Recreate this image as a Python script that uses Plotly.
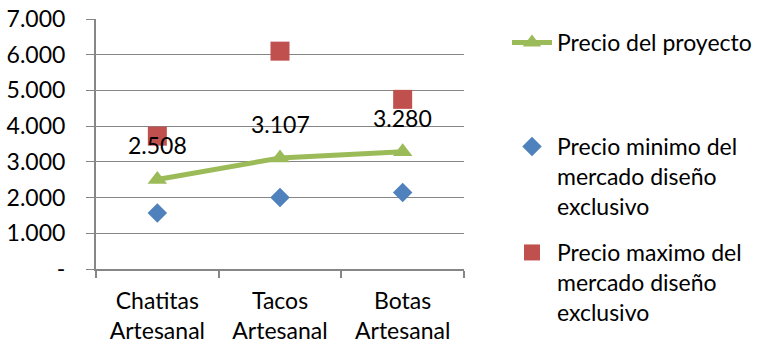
import plotly.graph_objects as go

categories = ["Chatitas<br>Artesanal", "Tacos<br>Artesanal", "Botas<br>Artesanal"]
precio_proyecto = [2508, 3107, 3280]
precio_minimo = [1570, 2000, 2140]
precio_maximo = [3720, 6100, 4750]
y_tick_vals = [0, 1000, 2000, 3000, 4000, 5000, 6000, 7000]
y_tick_text = ["-", "1.000", "2.000", "3.000", "4.000", "5.000", "6.000", "7.000"]
labels_proyecto = ["2.508", "3.107", "3.280"]

FONT = "Lato"
FS = 23
GRAY = "#868686"

fig = go.Figure()
fig.add_trace(go.Scatter(
    x=categories, y=precio_proyecto, mode="lines+markers",
    name="Precio del proyecto",
    line=dict(color="#9BBB59", width=5),
    marker=dict(symbol="triangle-up", size=17, color="#9BBB59"),
    legend="legend",
))
fig.add_trace(go.Scatter(
    x=categories, y=precio_minimo, mode="markers",
    name="Precio minimo del<br>mercado diseño<br>exclusivo",
    marker=dict(symbol="diamond", size=15, color="#4F81BD"),
    legend="legend2",
))
fig.add_trace(go.Scatter(
    x=categories, y=precio_maximo, mode="markers",
    name="Precio maximo del<br>mercado diseño<br>exclusivo",
    marker=dict(symbol="square", size=19, color="#C0504D"),
    legend="legend3",
))
for c, v, t in zip(categories, precio_proyecto, labels_proyecto):
    fig.add_annotation(x=c, y=v, text=t, showarrow=False, yshift=34,
                       font=dict(family=FONT, size=FS, color="#000000"))

W, H = 757, 342
L, R, T, B = 96, 464, 19, 269
pw, ph = R - L, B - T

def lx(px):
    return (px - L) / pw

def ly(py):
    return (B - py) / ph

legend_common = dict(font=dict(family=FONT, size=FS, color="#000000"),
                     bgcolor="rgba(0,0,0,0)", xanchor="left", yanchor="top",
                     valign="top", itemwidth=40, tracegroupgap=0)

fig.update_layout(
    width=W, height=H,
    margin=dict(l=L, r=W - R, t=T, b=H - B, pad=0, autoexpand=False),
    paper_bgcolor="white", plot_bgcolor="white",
    separators=",.",
    font=dict(family=FONT, size=FS, color="#000000"),
    showlegend=True,
    legend=dict(x=lx(507), y=ly(21), **legend_common),
    legend2=dict(x=lx(507), y=ly(125), **legend_common),
    legend3=dict(x=lx(507), y=ly(231), **legend_common),
    xaxis=dict(
        type="category", tickson="boundaries", ticks="outside", ticklen=7,
        tickcolor=GRAY, tickwidth=2, showline=True, linecolor=GRAY, linewidth=2,
        showgrid=False, tickfont=dict(family=FONT, size=FS, color="#000000"),
        range=[-0.5, 2.5], automargin=False, ticklabelstandoff=10,
    ),
    yaxis=dict(
        range=[0, 7000], tickvals=y_tick_vals, ticktext=y_tick_text,
        ticks="outside", ticklen=8, tickcolor=GRAY, tickwidth=1,
        showline=True, linecolor=GRAY, linewidth=2,
        showgrid=True, gridcolor=GRAY, gridwidth=1, zeroline=False,
        tickfont=dict(family=FONT, size=FS, color="#000000"),
        automargin=False, ticklabelstandoff=16,
    ),
)

fig.write_html("out.html")
